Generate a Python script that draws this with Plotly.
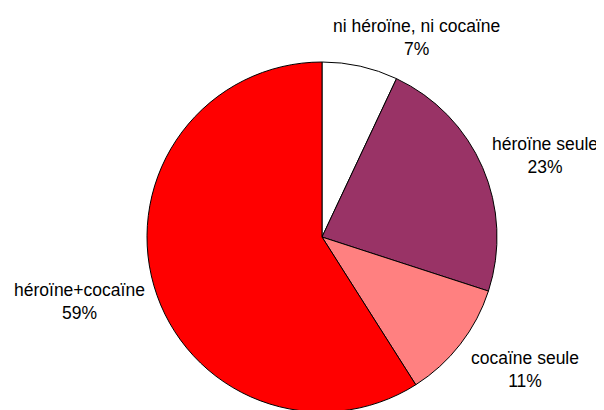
import plotly.graph_objects as go

labels = ["ni héroïne, ni cocaïne", "héroïne seule", "cocaïne seule", "héroïne+cocaïne"]
values = [7, 23, 11, 59]
colors = ["#FFFFFF", "#993366", "#FF8080", "#FF0000"]

W, H = 604, 410
OFF = 8  # page body margin: screenshot px = figure px + 8

# label anchor positions in screenshot pixels (center of the two-line text block)
label_px = [(416, 37.5), (545, 155), (525, 369), (79.5, 301)]

cx, cy, r = 322 - OFF, 237 - OFF, 175

fig = go.Figure(go.Pie(
    labels=labels,
    values=values,
    sort=False,
    direction="clockwise",
    rotation=0,
    marker=dict(colors=colors, line=dict(color="black", width=1)),
    textinfo="none",
    hoverinfo="label+percent",
    showlegend=False,
    domain=dict(x=[(cx - r) / W, (cx + r) / W], y=[1 - (cy + r) / H, 1 - (cy - r) / H]),
))

for lab, val, (px, py) in zip(labels, values, label_px):
    fig.add_annotation(
        x=(px - OFF) / W, y=1 - (py - OFF) / H, xref="paper", yref="paper",
        text=f"{lab}<br>{val}%", showarrow=False,
        xanchor="center", yanchor="middle", align="center",
        font=dict(family="Liberation Sans, Arial, sans-serif", size=17.5, color="black"),
    )

fig.update_layout(
    width=W, height=H,
    margin=dict(l=0, r=0, t=0, b=0),
    paper_bgcolor="white", plot_bgcolor="white",
)

fig.write_html("out.html")
